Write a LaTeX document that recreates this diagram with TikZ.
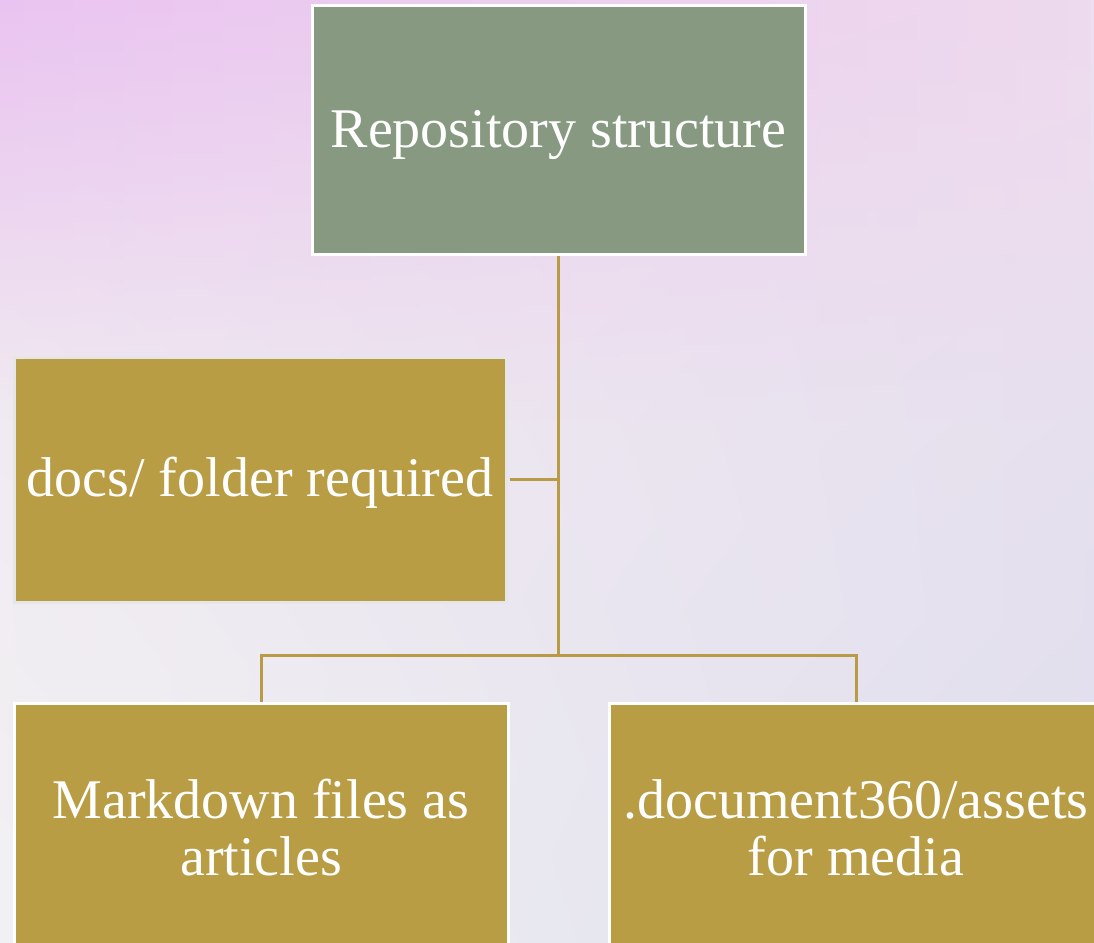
\documentclass[tikz,border=0pt]{standalone}
\usepackage{fontspec}
\setmainfont{Liberation Serif}
\usetikzlibrary{shadings,fadings}
\definecolor{boxgreen}{RGB}{135,153,128}
\definecolor{boxgold}{RGB}{184,157,69}
\definecolor{linegold}{RGB}{185,155,70}
\definecolor{bgTL}{RGB}{240,230,240}
\definecolor{bgTR}{RGB}{236,224,238}
\definecolor{bgBL}{RGB}{241,241,243}
\definecolor{bgBR}{RGB}{223,223,238}
\definecolor{pinkL}{RGB}{234,196,240}
\definecolor{pinkR}{RGB}{238,218,238}
\definecolor{docsedge}{RGB}{230,230,232}
\tikzset{
  box/.style={rectangle, draw=white, line width=3pt, text=white, align=center,
    inner sep=0pt, font=\fontsize{56}{57}\selectfont},
  rootbox/.style={box, fill=boxgreen, minimum width=493pt, minimum height=248pt},
  leafbox/.style={box, fill=boxgold, minimum width=494pt, minimum height=250pt},
  conn/.style={draw=linegold, line width=3pt}
}
\newcommand{\oneline}[1]{\raisebox{-17pt}[0pt][0pt]{#1}}
\begin{document}
\begin{tikzpicture}[x=1pt,y=-1pt]
\useasboundingbox (0,0) rectangle (1094,942);
\clip (0,0) rectangle (1094,942);
\shade[upper left=bgTL, upper right=bgTR, lower left=bgBL, lower right=bgBR] (0,0) rectangle (1094,942);
\shade[left color=pinkL, right color=pinkR, path fading=south] (0,0) rectangle (1094,420);
\node[rootbox] (top) at (558.5,130) {\oneline{Repository structure}};
\node[leafbox, draw=docsedge, minimum width=492pt, minimum height=245pt] (docs) at (260,479.5) {\oneline{docs/ folder required}};
\node[leafbox] (md) at (261,828) {Markdown files as\\articles};
\node[leafbox] (assets) at (856,828) {.document360/assets\\for media};
\coordinate (j) at (558.5,655);
\draw[conn] (top.south) -- (j);
\draw[conn] ([xshift=2pt]docs.east) -- (docs.east -| top.south);
\draw[conn] (md.north) |- (j) -| (assets.north);
\end{tikzpicture}
\end{document}
